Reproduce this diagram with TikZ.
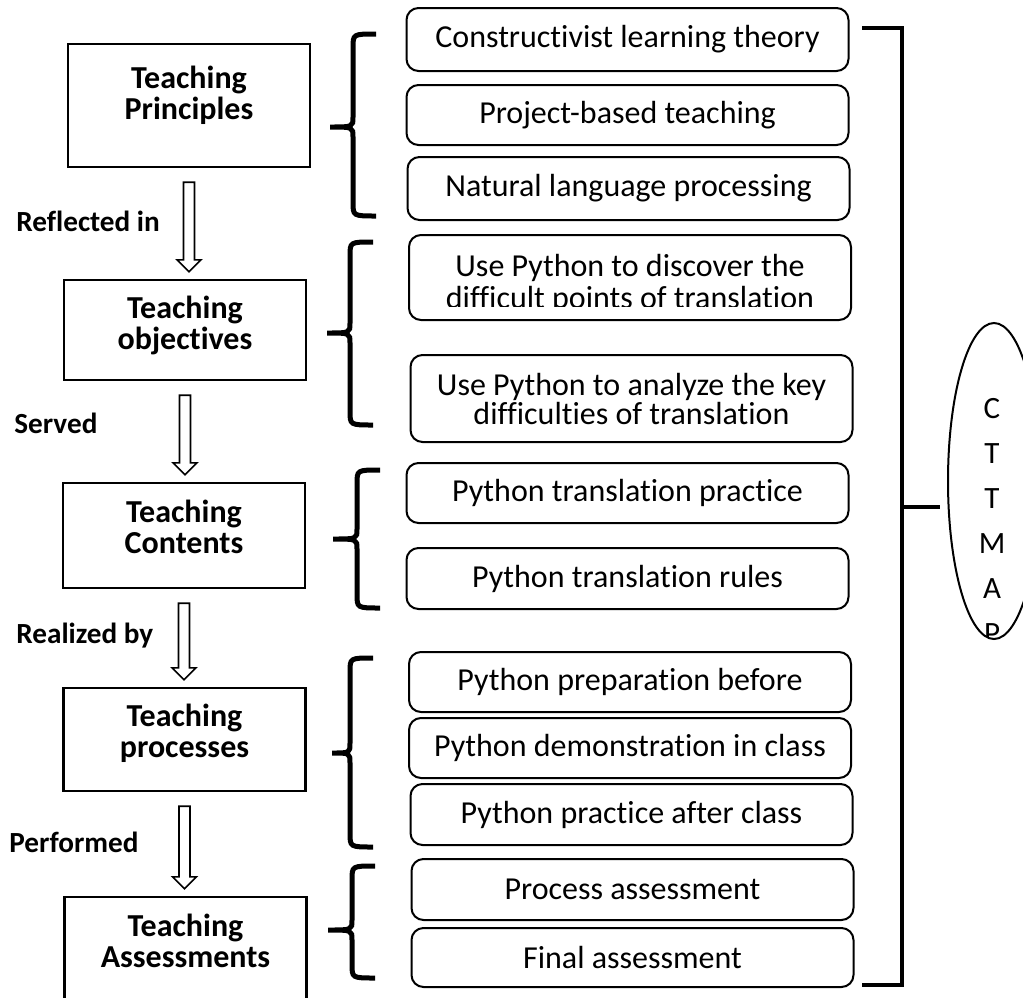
\documentclass[tikz,border=0pt]{standalone}
\usepackage{fontspec}
\setmainfont{Carlito}[Ligatures={NoCommon,NoContextual}, Contextuals=NoAlternate]
\usetikzlibrary{calc, shapes.geometric}

\tikzset{
    stagebox/.style={draw, line width=1.2pt, minimum width=121pt, inner sep=0pt},
    stagetext/.style={font=\bfseries\fontsize{16}{15.5}\selectfont, align=center, inner sep=0pt, anchor=north},
    linklabel/.style={font=\bfseries\fontsize{14.6}{16}\selectfont, anchor=base west, inner sep=0pt},
    itembox/.style={draw, rounded corners=6pt, line width=1pt, minimum width=221pt, inner sep=0pt,
        align=center, font=\fontsize{16}{14.5}\selectfont},
    itemtext/.style={align=center, inner sep=0pt, font=\fontsize{16}{16}\selectfont},
    bracestroke/.style={line width=2.5pt},
    bracketstroke/.style={line width=2.2pt},
    arrowoutline/.style={draw, line width=0.8pt, line join=miter}
}

% left curly brace: spine x, top y, bottom y, middle y, tip x
\newcommand{\groupbrace}[5]{%
    \draw[bracestroke] (#1+23,#2) .. controls (#1,#2) .. (#1,#2+14) -- (#1,#4-10)
        .. controls (#1,#4) .. (#5,#4) .. controls (#1,#4) .. (#1,#4+10)
        -- (#1,#3-14) .. controls (#1,#3) .. (#1+23,#3);}

% hollow arrow from the bottom of one stage to the top of the next
\newcommand{\hollowarrow}[2]{%
    \draw[arrowoutline] ($(#1.south)+(-5.5,14)$) -- ($(#1.south |- #2.north)+(-5.5,-19)$)
        -- ($(#1.south |- #2.north)+(-12,-19)$) -- ($(#1.south |- #2.north)+(0,-7)$)
        -- ($(#1.south |- #2.north)+(12,-19)$) -- ($(#1.south |- #2.north)+(5.5,-19)$)
        -- ($(#1.south)+(5.5,14)$) -- cycle;}

\begin{document}
\begin{tikzpicture}[x=0.5pt, y=-0.5pt]
    \clip (0,0) rectangle (1023,997);

    % stages on the left
    \node[stagebox, minimum height=61.5pt] (principles) at (189,105.5) {};
    \node[stagebox, minimum height=50pt] (objectives) at (185,330) {};
    \node[stagebox, minimum height=52.5pt] (contents) at (184,535.5) {};
    \node[stagebox, minimum height=51.5pt] (processes) at (184.5,739.5) {};
    \node[stagebox, minimum height=56.5pt] (assessments) at (185.5,953.5) {};

    \node[stagetext] (principlestext) at ($(principles.north)+(0,23)$) {Teaching\\Principles};
    \node[stagetext] (objectivestext) at ($(objectives.north)+(0,17)$) {Teaching\\objectives};
    \node[stagetext] (contentstext) at ($(contents.north)+(0,17.5)$) {Teaching\\Contents};
    \node[stagetext] (processestext) at ($(processes.north)+(0,17)$) {Teaching\\processes};
    \node[stagetext] (assessmentstext) at ($(assessments.north)+(0,18)$) {Teaching\\Assessments};

    \hollowarrow{principles}{objectives}
    \hollowarrow{objectives}{contents}
    \hollowarrow{contents}{processes}
    \hollowarrow{processes}{assessments}

    \node[linklabel] (reflected) at (16,231) {Reflected in};
    \node[linklabel] (served) at (14,433) {Served};
    \node[linklabel] (realized) at (16,643) {Realized by};
    \node[linklabel] (performed) at (9,852) {Performed};

    % items on the right
    \node[itembox, minimum height=31.5pt] (constructivist) at (627.5,39.5) {Constructivist learning theory};
    \node[itembox, minimum height=30pt] (project) at (627.5,115) {Project-based teaching};
    \node[itembox, minimum height=31.5pt] (nlp) at (628.5,188.5) {Natural language processing};

    \node[itembox, minimum height=42.5pt] (discover) at (630,277.5) {};
    \begin{scope}
        \clip (408,235) rectangle (852,306);
        \node[itemtext] (discovertext) at (630,284) {Use Python to discover the\\difficult points of translation};
    \end{scope}
    \node[itembox, minimum height=43.5pt] (analyze) at (631.5,398.5) {Use Python to analyze the key\\difficulties of translation};

    \node[itembox, minimum height=30pt] (practice) at (627.5,493) {Python translation practice};
    \node[itembox, minimum height=30.5pt] (rules) at (627.5,578.5) {Python translation rules};

    \node[itembox, minimum height=30pt] (before) at (630,682) {Python preparation before};
    \node[itembox, minimum height=30pt] (inclass) at (630,748) {Python demonstration in class};
    \node[itembox, minimum height=30.5pt] (after) at (631.5,814.5) {Python practice after class};

    \node[itembox, minimum height=30.5pt] (process) at (632.5,889.5) {Process assessment};
    \node[itembox, minimum height=29.5pt] (final) at (632.5,957.5) {Final assessment};

    % braces between stages and items
    \groupbrace{353}{34}{216}{127}{330}
    \groupbrace{350}{242}{425}{333}{327}
    \groupbrace{357}{470}{608}{539}{333}
    \groupbrace{350}{658}{847}{753}{332}
    \groupbrace{352}{866}{978}{930}{328}

    % bracket joining everything to the model
    \draw[bracketstroke] (862,28) -- (902,28) -- (902,985) -- (862,985);
    \coordinate (brkmid) at (902,507);
    \coordinate (tickend) at (940,507);
    \draw[bracketstroke] (brkmid) -- (tickend);

    \node[ellipse, draw, line width=1pt, minimum width=46pt, minimum height=158pt, inner sep=0pt] (ctmap) at (994,481) {};
    \begin{scope}
        \clip (940,380) rectangle (1040,636);
        \node[font=\fontsize{15.5}{22.5}\selectfont, align=center, anchor=north, inner sep=0pt] (ctmaptext) at (992,398) {C\\T\\T\\M\\A\\P};
    \end{scope}
\end{tikzpicture}
\end{document}
